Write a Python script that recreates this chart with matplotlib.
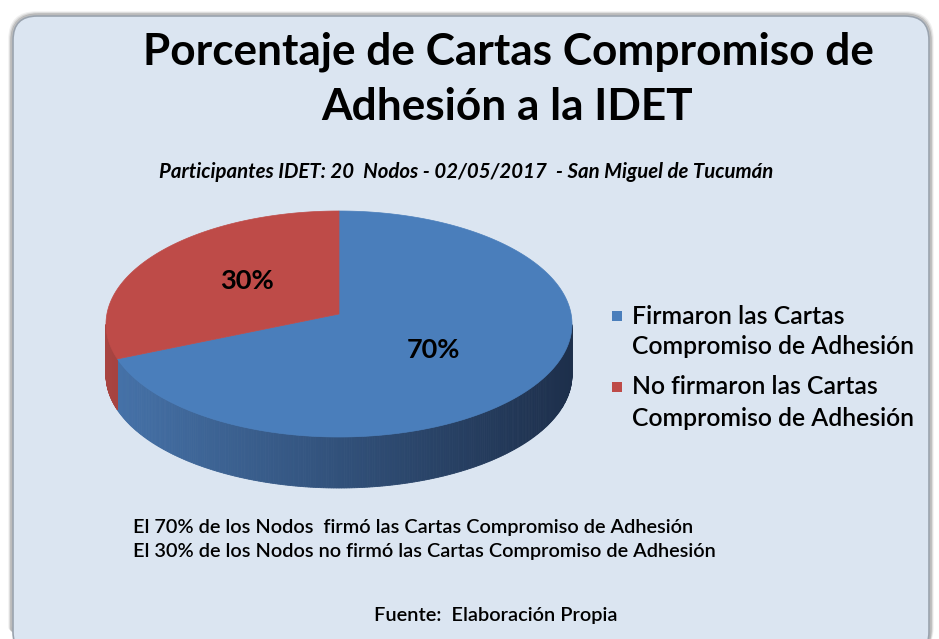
import matplotlib.pyplot as plt
import numpy as np
from matplotlib.patches import Polygon, FancyBboxPatch, Rectangle
from matplotlib.colors import to_rgb

# data
categories = ["Firmaron las Cartas\nCompromiso de Adhesión",
              "No firmaron las Cartas\nCompromiso de Adhesión"]
values = [70, 30]
top_colors = ["#4A7EBB", "#BE4B48"]
side_left = ["#4673AA", "#A84441"]
side_right = ["#1D2F4B", "#5A2220"]

title_lines = ["Porcentaje de Cartas Compromiso de", "Adhesión a la IDET"]
subtitle = "Participantes IDET: 20  Nodos - 02/05/2017  - San Miguel de Tucumán"
notes = ["El 70% de los Nodos  firmó las Cartas Compromiso de Adhesión",
         "El 30% de los Nodos no firmó las Cartas Compromiso de Adhesión"]
source = "Fuente:  Elaboración Propia"

FONT = "Lato"

fig = plt.figure(figsize=(9.39, 6.39), dpi=100)
fig.patch.set_facecolor("white")
ax = fig.add_axes([0, 0, 1, 1])
ax.set_xlim(0, 939)
ax.set_ylim(639, 0)
ax.axis("off")
renderer = fig.canvas.get_renderer()


def fit_text(x, y, s, width, ha="center", **kw):
    t = ax.text(x, y, s, ha=ha, va="center", fontsize=20, family=FONT, **kw)
    w = t.get_window_extent(renderer).width
    t.set_fontsize(20 * width / w)
    return t


# background panel with soft grey border
for i, a in enumerate([0.10, 0.18, 0.30]):
    ax.add_patch(FancyBboxPatch((10 + i, 13 + i), 922 - 2 * i, 640,
                                boxstyle="round,pad=0,rounding_size=26",
                                fc="none", ec="#707070", lw=2.5, alpha=a))
ax.add_patch(FancyBboxPatch((13, 16), 916, 640,
                            boxstyle="round,pad=0,rounding_size=24",
                            fc="#DBE5F1", ec="#9AA3AE", lw=1.2))

# 3D pie geometry
cx, cy, ra, rb, depth = 339, 324, 233, 113, 51
apex_dy = -10  # perspective: apex sits a little above the ellipse centre


def pt(th, dz=0):
    return cx + ra * np.cos(th), cy - rb * np.sin(th) + dz


fracs = np.array(values) / sum(values)
start = np.pi / 2
bounds = []
for f in fracs:
    end = start - f * 2 * np.pi
    bounds.append((start, end))
    start = end

# side walls (visible front half only)
for (s, e), cl, cr in zip(bounds, side_left, side_right):
    lo, hi = min(s, e), max(s, e)
    ths = np.linspace(lo, hi, 400)
    ths = ths[np.sin(ths) < 0]
    if len(ths) < 2:
        continue
    cl, cr = np.array(to_rgb(cl)), np.array(to_rgb(cr))
    for t0, t1 in zip(ths[:-1], ths[1:]):
        x0, y0 = pt(t0)
        x1, y1 = pt(t1)
        tt = ((x0 + x1) / 2 - (cx - ra)) / (2 * ra)
        c = cl + (cr - cl) * tt
        ax.add_patch(Polygon([(x0, y0), (x1, y1), (x1, y1 + depth), (x0, y0 + depth)],
                             closed=True, fc=c, ec=c, lw=0.6))

# top faces
for (s, e), c in zip(bounds, top_colors):
    ths = np.linspace(s, e, 300)
    xs, ys = pt(ths)
    verts = [(cx, cy + apex_dy)] + list(zip(xs, ys))
    ax.add_patch(Polygon(verts, closed=True, fc=c, ec=c, lw=0.5))

# percentage labels
label_off = [(0, -7), (2, -10)]
for (s, e), v, off in zip(bounds, values, label_off):
    mid = (s + e) / 2
    x, y = pt(mid)
    x = cx + (x - cx) * 0.5 + off[0]
    y = cy + (y - cy) * 0.5 + off[1]
    fit_text(x, y, f"{v}%", 54, fontweight="bold", color="black")

# title, subtitle
t1 = fit_text(508, 52, title_lines[0], 730, fontweight="bold")
ax.text(507, 107, title_lines[1], ha="center", va="center", family=FONT,
        fontweight="bold", fontsize=t1.get_fontsize())
fit_text(466, 172, subtitle, 613, fontweight="bold", style="italic")

# legend
leg_y = [316, 387]
for yy, c, lab in zip(leg_y, top_colors, categories):
    ax.add_patch(Rectangle((612, yy - 5), 10, 10, fc=c, ec="none"))
    l1, l2 = lab.split("\n")
    fit_text(632, yy, l1, 212 if c == top_colors[0] else 245, ha="left",
             fontweight="semibold")
    fit_text(632, yy + 31, l2, 283, ha="left", fontweight="semibold")

# notes
fit_text(133, 527, notes[0], 557, ha="left", fontweight="semibold")
fit_text(133, 552, notes[1], 580, ha="left", fontweight="semibold")
fit_text(496, 616, source, 243, fontweight="semibold")

fig.savefig("out.png", dpi=100, facecolor="white")
